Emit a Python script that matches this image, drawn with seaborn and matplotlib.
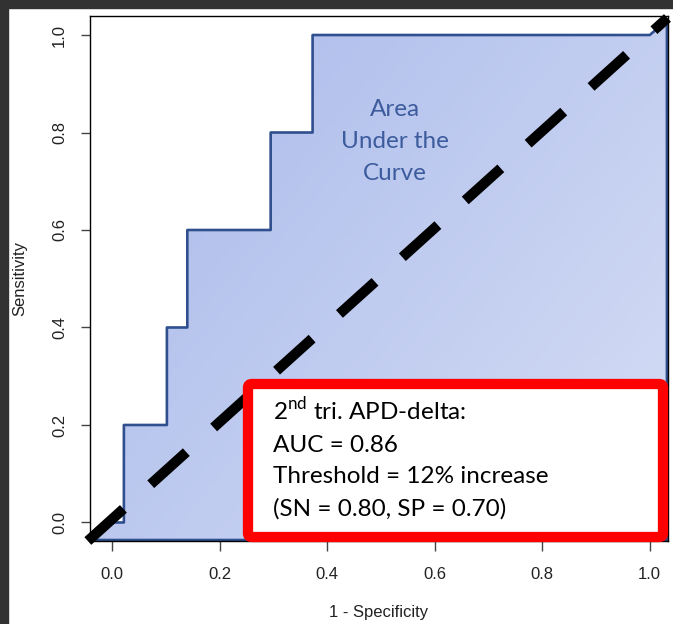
import numpy as np
import matplotlib
matplotlib.use('Agg')
import matplotlib.pyplot as plt
from matplotlib.patches import Polygon, Rectangle, FancyBboxPatch
from matplotlib.colors import LinearSegmentedColormap
import seaborn as sns

# ROC curve (closed polygon around the area under the curve)
fpr = [-0.045, 0.0, 0.022, 0.022, 0.102, 0.102, 0.14, 0.14, 0.295, 0.295,
       0.373, 0.373, 1.0, 1.032, 1.032, -0.045]
tpr = [-0.036, 0.0, 0.0, 0.2, 0.2, 0.4, 0.4, 0.6, 0.6, 0.8,
       0.8, 1.0, 1.0, 1.03, -0.036, -0.036]

# chance line
chance_x = [-0.045, 1.033]
chance_y = [-0.038, 1.035]

ticks = [0.0, 0.2, 0.4, 0.6, 0.8, 1.0]
tick_labels = ['0.0', '0.2', '0.4', '0.6', '0.8', '1.0']

area_lines = ['Area', 'Under the', 'Curve']
box_lines = ['2$^{\\mathrm{nd}}$ tri. APD-delta:', 'AUC = 0.86',
             'Threshold = 12% increase', '(SN = 0.80, SP = 0.70)']

sns.set_theme(style='white')
plt.rcParams['font.family'] = ['Liberation Sans', 'DejaVu Sans']
plt.rcParams['mathtext.fontset'] = 'custom'
plt.rcParams['mathtext.rm'] = 'Lato'
plt.rcParams['lines.scale_dashes'] = False

W, H = 673, 624
fig = plt.figure(figsize=(W / 100, H / 100), dpi=100)
fig.patch.set_facecolor('white')

# dark border strips of the screenshot
fig.patches.append(Rectangle((0, 1 - 8 / H), 1, 8 / H, transform=fig.transFigure,
                             color='#323232', zorder=0))
fig.patches.append(Rectangle((0, 0), 8 / W, 1, transform=fig.transFigure,
                             color='#323232', zorder=0))

ax = fig.add_axes([90 / W, 1 - 541 / H, 578 / W, 525 / H])
ax.set_xlim(-0.041, 1.034)
ax.set_ylim(-0.038, 1.039)

# gradient fill clipped to the area under the curve
poly = Polygon(np.column_stack([fpr, tpr]), closed=True, facecolor='none',
               edgecolor='none')
ax.add_patch(poly)
cmap = LinearSegmentedColormap.from_list('auc', ['#a8b8ea', '#d6def5'])
gx, gy = np.meshgrid(np.linspace(0, 1, 200), np.linspace(0, 1, 200))
grad = 0.58 * gx + 0.42 * gy  # row 0 is the top (origin='upper')
im = ax.imshow(grad, cmap=cmap, origin='upper', aspect='auto',
               extent=[min(fpr), max(fpr), min(tpr), max(tpr)], zorder=1)
im.set_clip_path(poly)

df = {'fpr': fpr, 'tpr': tpr}
sns.lineplot(x='fpr', y='tpr', data=df, sort=False, estimator=None,
             color='#2f4f8e', linewidth=1.9, ax=ax, zorder=2)

sns.lineplot(x=chance_x, y=chance_y, sort=False, estimator=None, color='black',
             linewidth=7.4, ax=ax, zorder=3)
dline = ax.lines[-1]
dline.set_dashes((34.5, 26.5))
dline.set_dash_capstyle('butt')
dline.set_clip_on(False)

ax.set_xlim(-0.041, 1.034)
ax.set_ylim(-0.038, 1.039)

for s in ax.spines.values():
    s.set_color('black')
    s.set_linewidth(1.0)

ax.set_xticks(ticks)
ax.set_xticklabels(tick_labels)
ax.set_yticks(ticks)
ax.set_yticklabels(tick_labels)
ax.tick_params(axis='x', bottom=True, length=7.5, width=1, color='#444444',
               pad=11, labelsize=12, labelcolor='#222222')
ax.tick_params(axis='y', left=True, length=6.5, width=1, color='#444444',
               pad=10, labelsize=12, labelcolor='#222222', labelrotation=90)
for lab in ax.get_yticklabels():
    lab.set_va('center')

ax.set_xlabel('1 - Specificity', fontsize=12, color='#222222')
ax.set_ylabel('Sensitivity', fontsize=12, color='#222222')
ax.xaxis.set_label_coords(0.5, -(613 - 541) / 525)
ax.xaxis.label.set_va('center')
ax.yaxis.set_label_coords(-(90 - 20) / 578, 0.5)
ax.yaxis.label.set_va('center')

# "Area Under the Curve" label
for i, line in enumerate(area_lines):
    fig.text(395 / W, 1 - (110 + 31.5 * i) / H, line, ha='center', va='center',
             fontsize=17.5, color='#3d5c9e', family='Lato', zorder=5)

# red annotation box
box = FancyBboxPatch((248 / W, 1 - 537 / H), 415 / W, 153 / H,
                     boxstyle='round,pad=0,rounding_size=0.006',
                     transform=fig.transFigure, facecolor='white',
                     edgecolor='#ff0000', linewidth=7.4, zorder=6)
fig.patches.append(box)
for i, line in enumerate(box_lines):
    fig.text(273 / W, 1 - (420 + 31.7 * i) / H, line, ha='left', va='baseline',
             fontsize=17.5, color='black', family='Lato', zorder=7)

fig.savefig('out.png', dpi=100)
